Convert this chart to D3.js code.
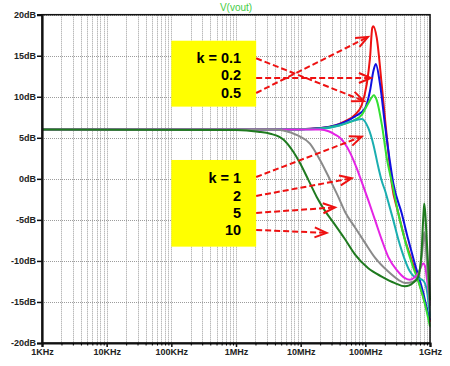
<!DOCTYPE html>
<html>
<head>
<meta charset="utf-8">
<script src="https://cdn.jsdelivr.net/npm/d3@7"></script>
<style>
  body { margin: 0; background: #fff; }
  svg text { font-family: "Liberation Sans", Arial, sans-serif; }
</style>
</head>
<body>
<div id="chart"></div>
<script>
// axis ticks
var dbTicks = [-20, -15, -10, -5, 0, 5, 10, 15, 20];
var freqTicks = [1e3, 1e4, 1e5, 1e6, 1e7, 1e8, 1e9];
var freqLabels = ["1KHz", "10KHz", "100KHz", "1MHz", "10MHz", "100MHz", "1GHz"];

// traces [Hz, dB], one per k
var k01 = [[1e3,6],[1e6,6],[10e6,6.05],[20e6,6.2],[34e6,6.5],[48e6,7.0],[69e6,7.8],[88e6,9.0],[105e6,11.5],[118e6,14.7],[128e6,18.4],[133e6,18.6],[150e6,17.2],[179e6,11.5],[201e6,7.4],[226e6,3.4],[255e6,-0.5],[324e6,-4.2],[410e6,-7.4],[521e6,-9.9],[586e6,-11.1],[780e6,-14.3],[1e9,-17.4]];
var k02 = [[1e3,6],[1e6,6],[10e6,6.05],[20e6,6.2],[34e6,6.5],[69e6,7.6],[99e6,8.6],[118e6,10.7],[133e6,13.1],[145e6,14.0],[169e6,11.5],[201e6,6.6],[240e6,2.1],[270e6,-0.5],[365e6,-4.2],[461e6,-7.4],[571e6,-10.1],[780e6,-13.8],[940e6,-16.5],[1e9,-17.2]];
var k05 = [[1e3,6],[1e6,6],[10e6,6.05],[20e6,6.15],[34e6,6.4],[69e6,7.2],[88e6,7.8],[111e6,9.2],[136e6,10.2],[150e6,9.6],[180e6,6.6],[215e6,2.5],[260e6,-0.6],[330e6,-4.5],[420e6,-7.8],[540e6,-10.6],[680e6,-12.8],[850e6,-15.5],[1e9,-18]];
var k1 = [[1e3,6],[1e6,6],[10e6,6.02],[20e6,6.1],[40e6,6.5],[60e6,7.0],[88e6,7.3],[111e6,6.2],[133e6,4.2],[158e6,1.5],[180e6,-0.3],[205e6,-1.6],[226e6,-2.8],[270e6,-5.0],[324e6,-7.4],[410e6,-9.9],[490e6,-11.3],[550e6,-11.8],[660e6,-12.1],[787e6,-12.4],[890e6,-13.5],[1e9,-16.8]];
var k2 = [[1e3,6],[10e6,6],[20e6,6],[27e6,5.8],[34e6,5.4],[40.5e6,5.0],[58e6,3.2],[73.5e6,1.3],[85.7e6,-0.13],[111e6,-2.6],[141e6,-5.0],[179e6,-7.4],[226e6,-9.5],[305e6,-11.1],[410e6,-12.1],[490e6,-12.3],[580e6,-12.0],[660e6,-11.5],[787e6,-10.3],[850e6,-10.8],[890e6,-12],[1e9,-15.1]];
var k5 = [[1e3,6],[4e6,6],[5.4e6,5.9],[9e6,5.3],[13.9e6,4.3],[19.9e6,2.3],[28.4e6,-0.1],[38.2e6,-2.2],[48.4e6,-4.0],[69e6,-5.9],[99e6,-7.8],[141e6,-9.6],[226e6,-11.3],[324e6,-12.3],[410e6,-12.7],[560e6,-12.5],[700e6,-11],[790e6,-7.5],[815e6,-6.5],[850e6,-7.5],[890e6,-10],[1e9,-15.5]];
var k10 = [[1e3,6],[1e6,5.95],[2.2e6,5.75],[3.4e6,5.5],[5.4e6,4.8],[7.7e6,3.3],[9.8e6,1.9],[13.1e6,-0.1],[17.7e6,-2.2],[23.8e6,-3.9],[34e6,-5.6],[48e6,-7.3],[69e6,-9.2],[111e6,-10.9],[179e6,-11.9],[287e6,-12.7],[410e6,-13.1],[560e6,-12.6],[660e6,-11.9],[743e6,-8.7],[790e6,-4.5],[815e6,-3.0],[850e6,-4.5],[890e6,-7.4],[1e9,-14.8]];

var traces = [k01, k02, k05, k1, k2, k5, k10];
var colors = ["#ee1111", "#1010e0", "#33e033", "#1aaeb0", "#e424e4", "#8a8a8a", "#1f7a1f"];

// annotation boxes, labels and arrows (Hz / dB)
var boxSpan = [1e5, 2.05e6];
var boxTopDb = [16.83, 8.8];
var boxBotDb = [2.3, -8.26];
var kTop = ["k = 0.1", "0.2", "0.5"];
var kTopY = [14.81, 12.66, 10.5];
var kTopFrom = [14.69, 12.29, 10.46];
var kTopTip = [[95e6, 9.49], [122e6, 12.29], [110e6, 17.28]];
var kBot = ["k = 1", "2", "5", "10"];
var kBotY = [0.19, -2.08, -4.12, -6.23];
var kBotFrom = [0.23, -2.08, -4.15, -6.22];
var kBotTip = [[88e6, 5.14], [61.5e6, 0.07], [34e6, -3.48], [25.2e6, -6.59]];

var svg = d3.select("#chart").append("svg")
  .attr("width", 450)
  .attr("height", 366);

svg.append("rect").attr("width", 450).attr("height", 366).attr("fill", "#fff");

var x = d3.scaleLog().domain([1e3, 1e9]).range([42, 430]);
var y = d3.scaleLinear().domain([-20, 20]).range([343, 14.7]);

// grid
svg.append("g").selectAll("line")
  .data(x.ticks())
  .join("line")
  .attr("x1", d => Math.round(x(d)) + 0.5)
  .attr("x2", d => Math.round(x(d)) + 0.5)
  .attr("y1", y(20))
  .attr("y2", y(-20))
  .attr("stroke", "#9c9c9c")
  .attr("stroke-dasharray", "1,1");

svg.append("g").selectAll("line")
  .data(dbTicks)
  .join("line")
  .attr("x1", x(1e3))
  .attr("x2", x(1e9))
  .attr("y1", d => Math.round(y(d)) + 0.5)
  .attr("y2", d => Math.round(y(d)) + 0.5)
  .attr("stroke", "#9c9c9c")
  .attr("stroke-dasharray", "1,1");

// yellow boxes
[boxTopDb, boxBotDb].forEach(function(b) {
  svg.append("rect")
    .attr("x", x(boxSpan[0]))
    .attr("y", y(b[0]))
    .attr("width", x(boxSpan[1]) - x(boxSpan[0]))
    .attr("height", y(b[1]) - y(b[0]))
    .attr("fill", "#ffff00");
});

// traces
var line = d3.line()
  .x(d => x(d[0]))
  .y(d => y(d[1]))
  .curve(d3.curveMonotoneX);

svg.append("g").selectAll("path")
  .data(traces)
  .join("path")
  .attr("d", line)
  .attr("fill", "none")
  .attr("stroke", (d, i) => colors[i])
  .attr("stroke-width", 2);

// box labels
function labels(txt, at) {
  svg.append("g").selectAll("text")
    .data(txt)
    .join("text")
    .attr("x", x(boxSpan[1]) - 15)
    .attr("y", (d, i) => y(at[i]))
    .attr("dy", "0.36em")
    .attr("text-anchor", "end")
    .attr("font-size", 14.5)
    .attr("font-weight", "bold")
    .attr("fill", "#000")
    .text(d => d);
}
labels(kTop, kTopY);
labels(kBot, kBotY);

// arrows
svg.append("defs").append("marker")
  .attr("id", "head")
  .attr("markerUnits", "userSpaceOnUse")
  .attr("markerWidth", 16)
  .attr("markerHeight", 14)
  .attr("refX", 12)
  .attr("refY", 6)
  .attr("orient", "auto")
  .attr("overflow", "visible")
  .append("path")
  .attr("d", "M0,1 L12,6 L0,11")
  .attr("fill", "none")
  .attr("stroke", "#ee1111")
  .attr("stroke-width", 2);

function arrows(from, tip) {
  svg.append("g").selectAll("line")
    .data(tip)
    .join("line")
    .attr("x1", x(boxSpan[1]))
    .attr("y1", (d, i) => y(from[i]))
    .attr("x2", d => x(d[0]))
    .attr("y2", d => y(d[1]))
    .attr("stroke", "#ee1111")
    .attr("stroke-width", 2)
    .attr("stroke-dasharray", "6,3")
    .attr("marker-end", "url(#head)");
}
arrows(kTopFrom, kTopTip);
arrows(kBotFrom, kBotTip);

// frame
svg.append("rect")
  .attr("x", x(1e3))
  .attr("y", y(20))
  .attr("width", x(1e9) - x(1e3))
  .attr("height", y(-20) - y(20))
  .attr("fill", "none")
  .attr("stroke", "#111")
  .attr("stroke-width", 1.5);

// axes
var yAxis = svg.append("g")
  .attr("transform", "translate(" + x(1e3) + ",0)")
  .call(d3.axisLeft(y).tickValues(dbTicks).tickFormat(d => d + "dB").tickSize(5).tickPadding(1));

var xAxis = svg.append("g")
  .attr("transform", "translate(0," + y(-20) + ")")
  .call(d3.axisBottom(x).tickValues(freqTicks).tickFormat((d, i) => freqLabels[i]).tickSize(4).tickPadding(2));

svg.append("g")
  .attr("transform", "translate(0," + y(-20) + ")")
  .call(d3.axisBottom(x).tickValues(x.ticks().filter(d => freqTicks.indexOf(d) < 0)).tickFormat("").tickSize(2.5))
  .select(".domain").remove();

[yAxis, xAxis].forEach(function(g) {
  g.select(".domain").attr("stroke", "#111").attr("stroke-width", 2.2);
  g.selectAll(".tick line").attr("stroke", "#111").attr("stroke-width", 1.5);
  g.selectAll("text")
    .attr("font-size", 9)
    .attr("font-weight", "bold")
    .attr("fill", "#222");
});

// title
svg.append("text")
  .attr("x", 236)
  .attr("y", 11)
  .attr("text-anchor", "middle")
  .attr("font-size", 10)
  .attr("fill", "#44cc44")
  .text("V(vout)");
</script>
</body>
</html>
